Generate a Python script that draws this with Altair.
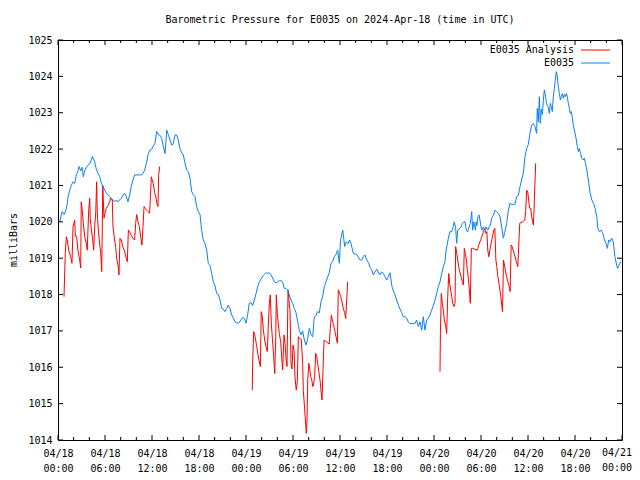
import altair as alt
import pandas as pd

# ---------------- data (minutes after 2024-04-18 00:00 UTC, millibars) -------------
station_min = [13, 31, 46, 61, 71, 77, 90, 102, 115, 128, 140, 153, 161, 174, 184, 194, 204, 217, 230, 243,
               255, 264, 281, 293, 306, 319, 332, 345, 358, 370, 383, 396, 408, 421, 434, 447, 460, 472, 485, 498,
               511, 523, 536, 549, 561, 574, 587, 613, 638, 651, 664, 676, 692, 704, 718, 730, 743, 756, 768, 781,
               794, 807, 820, 833, 845, 858, 871, 883, 896, 909, 921, 934, 947, 960, 973, 986, 998, 1011, 1024, 1036,
               1049, 1062, 1075, 1088, 1100, 1113, 1126, 1139, 1151, 1164, 1177, 1190, 1202, 1215, 1228, 1241, 1254, 1266, 1279, 1292,
               1304, 1317, 1330, 1343, 1356, 1369, 1381, 1394, 1407, 1419, 1432, 1440, 1453, 1465, 1478, 1491, 1504, 1517, 1530, 1542,
               1555, 1568, 1580, 1593, 1606, 1618, 1632, 1644, 1657, 1670, 1683, 1695, 1708, 1721, 1733, 1746, 1759, 1772, 1785, 1798,
               1810, 1823, 1836, 1848, 1861, 1874, 1887, 1900, 1913, 1925, 1938, 1951, 1963, 1976, 1989, 2002, 2014, 2027, 2040, 2053,
               2066, 2078, 2091, 2104, 2116, 2129, 2142, 2155, 2164, 2181, 2196, 2208, 2221, 2234, 2244, 2262, 2288, 2313, 2326, 2339,
               2351, 2359, 2380, 2390, 2403, 2415, 2428, 2441, 2453, 2466, 2479, 2492, 2505, 2518, 2530, 2543, 2551, 2558, 2569, 2581,
               2594, 2607, 2620, 2633, 2645, 2658, 2671, 2683, 2696, 2719, 2734, 2747, 2760, 2773, 2786, 2798, 2811, 2824, 2836, 2849,
               2862, 2875, 2888, 2900, 2913, 2926, 2939, 2951, 2964, 2972, 2990, 3002, 3015, 3028, 3035, 3045, 3054, 3061, 3071, 3087,
               3097, 3108, 3118, 3128, 3138, 3148, 3158, 3169, 3176, 3184, 3198, 3202, 3209, 3217, 3225, 3232, 3240, 3248, 3258, 3268,
               3278, 3292, 3302, 3312, 3322, 3335, 3347, 3360, 3373, 3386, 3398, 3411, 3421, 3437, 3449, 3462, 3475, 3488, 3500, 3513,
               3526, 3539, 3551, 3564, 3577, 3590, 3602, 3615, 3628, 3641, 3653, 3666, 3671, 3679, 3687, 3694, 3702, 3710, 3718, 3725,
               3733, 3741, 3748, 3756, 3763, 3771, 3779, 3786, 3794, 3802, 3809, 3817, 3825, 3832, 3840, 3848, 3855, 3863, 3871, 3878,
               3886, 3894, 3901, 3909, 3917, 3924, 3932, 3940, 3947, 3958, 3968, 3978, 3986, 3993, 4003, 4011, 4024, 4031, 4040, 4051,
               4058, 4066, 4076, 4089, 4102, 4114, 4127, 4135, 4148, 4160, 4174, 4186, 4198, 4208, 4218, 4228, 4241, 4253, 4266, 4279,
               4287, 4297, 4310]
station_mb = [1020.0, 1020.28, 1020.2, 1020.32, 1020.5, 1020.69, 1020.87, 1021.0, 1021.1, 1021.05, 1021.29, 1021.4, 1021.52, 1021.4, 1021.5, 1021.24, 1021.4, 1021.5, 1021.56, 1021.6,
              1021.7, 1021.8, 1021.65, 1021.45, 1021.33, 1021.25, 1021.06, 1020.97, 1020.87, 1020.8, 1020.74, 1020.7, 1020.65, 1020.6, 1020.55, 1020.6, 1020.55, 1020.6, 1020.65, 1020.74,
              1020.78, 1020.7, 1020.55, 1020.74, 1020.97, 1021.15, 1021.29, 1021.29, 1021.29, 1021.33, 1021.42, 1021.6, 1021.88, 1021.97, 1022.0, 1022.08, 1022.16, 1022.48, 1022.4, 1022.38,
              1022.3, 1022.07, 1021.88, 1022.52, 1022.4, 1022.25, 1022.11, 1022.15, 1022.39, 1022.39, 1022.25, 1022.02, 1021.9, 1021.84, 1021.61, 1021.42, 1021.38, 1021.2, 1020.83, 1020.75,
              1020.7, 1020.42, 1020.28, 1020.2, 1019.77, 1019.5, 1019.4, 1019.22, 1018.86, 1018.8, 1018.58, 1018.35, 1018.25, 1018.03, 1018.0, 1017.85, 1017.62, 1017.6, 1017.53, 1017.62,
              1017.71, 1017.62, 1017.44, 1017.35, 1017.25, 1017.22, 1017.22, 1017.25, 1017.34, 1017.37, 1017.3, 1017.21, 1017.45, 1017.76, 1017.78, 1017.7, 1017.85, 1018.03, 1018.22, 1018.35,
              1018.42, 1018.51, 1018.55, 1018.6, 1018.58, 1018.6, 1018.54, 1018.45, 1018.35, 1018.32, 1018.35, 1018.38, 1018.38, 1018.35, 1018.17, 1018.17, 1018.12, 1017.99, 1017.85, 1017.75,
              1017.62, 1017.5, 1017.25, 1017.02, 1016.89, 1017.0, 1016.75, 1016.61, 1016.8, 1017.07, 1016.9, 1016.84, 1017.39, 1017.42, 1017.53, 1017.5, 1017.8, 1017.94, 1018.22, 1018.35,
              1018.49, 1018.6, 1018.86, 1018.9, 1019.04, 1019.1, 1019.22, 1018.86, 1019.5, 1019.77, 1019.32, 1019.45, 1019.4, 1019.5, 1019.41, 1019.13, 1019.1, 1018.95, 1018.95, 1019.05,
              1019.09, 1019.0, 1018.86, 1018.75, 1018.68, 1018.54, 1018.62, 1018.7, 1018.62, 1018.54, 1018.62, 1018.58, 1018.49, 1018.4, 1018.49, 1018.6, 1018.4, 1018.22, 1018.1, 1017.99,
              1017.85, 1017.71, 1017.6, 1017.5, 1017.39, 1017.39, 1017.35, 1017.25, 1017.2, 1017.2, 1017.2, 1017.3, 1017.12, 1017.25, 1017.02, 1017.39, 1017.02, 1017.3, 1017.35, 1017.44,
              1017.57, 1017.7, 1017.85, 1018.03, 1018.22, 1018.35, 1018.58, 1018.76, 1018.9, 1019.2, 1019.55, 1019.73, 1019.73, 1019.87, 1020.0, 1019.85, 1019.41, 1019.77, 1019.8, 1019.85,
              1019.96, 1020.0, 1020.0, 1019.77, 1019.72, 1019.85, 1019.95, 1020.28, 1019.77, 1020.0, 1019.77, 1020.0, 1019.9, 1020.14, 1020.19, 1020.05, 1019.86, 1019.77, 1019.86, 1019.77,
              1019.86, 1019.77, 1019.86, 1019.91, 1020.1, 1020.19, 1020.32, 1020.28, 1020.23, 1020.14, 1019.86, 1019.55, 1019.7, 1019.96, 1020.3, 1020.51, 1020.48, 1020.48, 1020.48, 1020.69,
              1020.72, 1020.97, 1021.15, 1021.33, 1021.79, 1022.02, 1022.12, 1022.43, 1022.66, 1022.7, 1022.62, 1022.43, 1023.12, 1022.75, 1023.44, 1022.71, 1023.1, 1022.95, 1023.35, 1023.63,
              1023.5, 1023.26, 1023.2, 1023.15, 1022.98, 1023.26, 1023.17, 1023.03, 1023.44, 1023.67, 1023.9, 1024.13, 1023.98, 1023.72, 1023.53, 1023.35, 1023.44, 1023.53, 1023.4, 1023.5,
              1023.44, 1023.53, 1023.44, 1023.26, 1023.12, 1022.98, 1023.03, 1022.85, 1022.66, 1022.48, 1022.3, 1022.07, 1021.93, 1022.02, 1021.88, 1021.75, 1021.7, 1021.75, 1021.61, 1021.42,
              1021.24, 1021.05, 1020.78, 1020.6, 1020.51, 1020.37, 1020.14, 1019.82, 1019.73, 1019.77, 1019.68, 1019.5, 1019.41, 1019.27, 1019.5, 1019.45, 1019.55, 1019.45, 1019.04, 1018.81,
              1018.72, 1018.81, 1018.9]

analysis1_min = [46, 56, 64, 71, 82, 97, 107, 115, 128, 133, 143, 153, 166, 174, 178, 186, 194, 204, 217, 224,
                 235, 243, 247, 255, 266, 273, 281, 289, 296, 301, 307, 316, 327, 335, 343, 352, 360, 370, 383, 396,
                 404, 416, 421, 434, 442, 449, 460, 467, 475, 485, 498, 511, 523, 531, 539, 549, 562, 574, 587, 595,
                 603, 613, 623, 633, 643, 651, 659, 669, 679, 689, 702, 710, 715, 722, 730, 740, 751, 758, 766, 771, 779]
analysis1_mb = [1017.94, 1019.18, 1019.59, 1019.5, 1019.22, 1019.04, 1018.86, 1019.87, 1020.05, 1019.6, 1019.6, 1019.2, 1018.95, 1018.73, 1020.55, 1020.3, 1019.96, 1019.6, 1019.4, 1019.22,
                1020.3, 1020.65, 1020.1, 1019.8, 1019.5, 1019.22, 1019.87, 1020.24, 1021.1, 1020.24, 1019.87, 1019.5, 1019.13, 1018.63, 1021.0, 1020.1, 1020.24, 1020.37, 1020.45, 1020.55,
                1020.65, 1020.6, 1019.87, 1019.5, 1019.3, 1019.0, 1018.8, 1018.54, 1019.55, 1019.5, 1019.3, 1019.17, 1019.0, 1018.9, 1019.77, 1019.72, 1019.62, 1019.55, 1019.5, 1019.96,
                1020.2, 1020.0, 1019.87, 1019.6, 1019.36, 1019.87, 1020.42, 1020.37, 1020.32, 1020.28, 1020.24, 1020.87, 1021.24, 1021.15, 1021.05, 1020.8, 1020.65, 1020.5, 1020.42, 1021.3, 1021.52]

analysis2_min = [1488, 1491, 1499, 1507, 1514, 1522, 1532, 1542, 1550, 1557, 1565, 1573, 1583, 1593, 1603, 1611, 1619, 1626, 1634, 1642,
                 1652, 1660, 1668, 1672, 1680, 1688, 1695, 1706, 1714, 1721, 1731, 1739, 1747, 1754, 1762, 1769, 1777, 1785, 1792, 1800,
                 1808, 1815, 1825, 1833, 1841, 1848, 1859, 1864, 1874, 1879, 1887, 1894, 1902, 1907, 1913, 1921, 1928, 1936, 1944, 1951,
                 1956, 1966, 1974, 1982, 1989, 1999, 2007, 2017, 2022, 2030, 2038, 2048, 2063, 2078, 2086, 2094, 2101, 2109, 2119, 2129,
                 2140, 2147, 2155, 2165, 2175, 2186, 2196, 2204, 2211, 2219]
analysis2_mb = [1015.37, 1016.15, 1016.98, 1016.89, 1016.75, 1016.57, 1016.34, 1016.15, 1016.02, 1017.53, 1017.39, 1017.03, 1016.75, 1016.57, 1016.43, 1017.16, 1017.76, 1017.99, 1017.21, 1016.8,
                1016.29, 1015.83, 1016.84, 1017.99, 1017.48, 1017.16, 1016.93, 1016.7, 1016.24, 1015.93, 1016.89, 1016.66, 1016.2, 1016.02, 1018.13, 1017.85, 1017.58, 1016.11, 1015.95, 1016.61,
                1016.47, 1015.74, 1015.37, 1015.6, 1016.84, 1016.8, 1016.78, 1016.75, 1016.1, 1015.37, 1014.96, 1014.6, 1014.18, 1014.5, 1015.65, 1016.11, 1015.95, 1015.74, 1015.65, 1015.47,
                1015.5, 1015.75, 1016.38, 1016.3, 1016.1, 1015.85, 1015.65, 1015.28, 1015.1, 1015.93, 1016.75, 1016.72, 1016.68, 1016.64, 1017.07, 1017.44, 1017.3, 1017.2, 1017.03, 1016.85,
                1016.66, 1018.13, 1018.05, 1017.95, 1017.8, 1017.6, 1017.5, 1017.34, 1017.85, 1018.35]

analysis3_min = [2926, 2929, 2936, 2944, 2951, 2959, 2970, 2977, 2985, 2993, 3000, 3008, 3016, 3023, 3033, 3041, 3046, 3054, 3062, 3069,
                 3077, 3087, 3097, 3105, 3112, 3120, 3128, 3135, 3143, 3151, 3158, 3166, 3177, 3189, 3210, 3215, 3223, 3231, 3239, 3246,
                 3254, 3262, 3269, 3277, 3285, 3292, 3300, 3308, 3315, 3323, 3331, 3338, 3346, 3354, 3361, 3369, 3377, 3385, 3392, 3400,
                 3405, 3412, 3420, 3428, 3436, 3446, 3456, 3463, 3471, 3478, 3486, 3494, 3501, 3511, 3522, 3529, 3537, 3547, 3560, 3575,
                 3582, 3590, 3598, 3605, 3613, 3621, 3628, 3633, 3641, 3646, 3654, 3659]
analysis3_mb = [1015.88, 1016.93, 1018.03, 1017.76, 1017.58, 1017.3, 1017.12, 1016.93, 1017.94, 1018.58, 1018.31, 1018.12, 1017.94, 1017.76, 1017.67, 1017.76, 1019.32, 1019.13, 1018.95, 1018.77,
                1018.63, 1018.49, 1018.35, 1018.26, 1019.27, 1019.13, 1018.95, 1018.68, 1018.45, 1018.12, 1017.76, 1019.27, 1019.27, 1019.25, 1019.22, 1019.27, 1019.36, 1019.45, 1019.5, 1019.6,
                1019.68, 1019.77, 1019.82, 1019.68, 1019.73, 1019.22, 1019.04, 1019.22, 1019.36, 1019.5, 1019.64, 1019.77, 1019.82, 1018.95, 1018.77, 1018.5, 1018.32, 1018.12, 1017.94, 1017.67,
                1017.53, 1018.95, 1018.81, 1018.63, 1018.49, 1018.35, 1018.22, 1018.08, 1019.36, 1019.32, 1019.22, 1019.13, 1019.04, 1018.9, 1018.77, 1019.36, 1019.96, 1019.98, 1020.0, 1020.05,
                1020.28, 1020.87, 1020.82, 1020.6, 1020.37, 1020.37, 1020.14, 1020.05, 1019.91, 1020.3, 1021.15, 1021.61]

y_ticks = [1014, 1015, 1016, 1017, 1018, 1019, 1020, 1021, 1022, 1023, 1024, 1025]
x_major_hours = [0, 6, 12, 18, 24, 30, 36, 42, 48, 54, 60, 66, 72]
x_minor_hours = [2, 4, 8, 10, 14, 16, 20, 22, 26, 28, 32, 34, 38, 40, 44, 46, 50, 52, 56, 58, 62, 64, 68, 70]

title_text = "Barometric Pressure for E0035 on 2024-Apr-18 (time in UTC)"
y_title = "milliBars"
series_names = ["E0035 Analysis", "E0035"]
series_colors = ["#ff0000", "#0a80f5"]

# ---------------- build tables -------------
start = pd.Timestamp("2024-04-18T00:00:00", tz="UTC")
FMT = "%Y-%m-%dT%H:%M:%SZ"


def to_iso(mins):
    return [(start + pd.Timedelta(minutes=m)).strftime(FMT) for m in mins]


def ms(hours):
    return int((start + pd.Timedelta(hours=hours)).value // 10**6)


blue_df = pd.DataFrame({"t": to_iso(station_min), "p": station_mb})
red_df = pd.concat([
    pd.DataFrame({"t": to_iso(analysis1_min), "p": analysis1_mb, "seg": 1}),
    pd.DataFrame({"t": to_iso(analysis2_min), "p": analysis2_mb, "seg": 2}),
    pd.DataFrame({"t": to_iso(analysis3_min), "p": analysis3_mb, "seg": 3}),
], ignore_index=True)

major_df = pd.DataFrame({"t": [ms(h) for h in x_major_hours]})
minor_df = pd.DataFrame({"t": [ms(h) for h in x_minor_hours]})
last_df = pd.DataFrame({"t": [ms(x_major_hours[-1])]})
ytick_df = pd.DataFrame({"p": y_ticks})
one = pd.DataFrame({"a": [0]})

FONT = "DejaVu Sans Mono"
W, H = 564, 400
LABEL_PAD = 8
LABEL_EXPR = "[utcFormat(datum.value, '%m/%d'), utcFormat(datum.value, '%H:%M')]"

xscale = alt.Scale(type="utc", domain=[ms(0), ms(72)], nice=False)
yscale = alt.Scale(domain=[1014, 1025], nice=False, zero=False)

x_axis = alt.Axis(
    values=[ms(h) for h in x_major_hours[:-1]],
    labelExpr=LABEL_EXPR,
    ticks=False, domain=False, grid=False, title=None,
    labelFont=FONT, labelFontSize=10, labelColor="black",
    labelPadding=LABEL_PAD, labelLineHeight=15, labelFlush=False, labelOverlap=False,
)
y_axis = alt.Axis(
    values=y_ticks, format="d", ticks=False, domain=False, grid=False, title=None,
    labelFont=FONT, labelFontSize=10, labelColor="black", labelPadding=6,
    labelOverlap=False, labelFlush=False,
)


def X():
    return alt.X("t:T", scale=xscale, axis=x_axis, title=None)


def Y():
    return alt.Y("p:Q", scale=yscale, axis=y_axis, title=None)


red = alt.Chart(red_df).mark_line(color=series_colors[0], strokeWidth=1, clip=True).encode(
    x=X(), y=Y(), detail="seg:N",
)
blue = alt.Chart(blue_df).mark_line(color=series_colors[1], strokeWidth=1, clip=True).encode(
    x=X(), y=Y(),
)

# last x label (04/21 00:00) drawn separately, nudged to stay inside the page
last_label = alt.Chart(last_df).transform_calculate(
    lab=LABEL_EXPR.replace("datum.value", "datum.t")
).mark_text(
    font=FONT, fontSize=10, color="black", align="right", baseline="top", lineHeight=15, dx=10
).encode(x=X(), y=alt.value(H + LABEL_PAD), text="lab:N")

tick_style = dict(color="black", strokeWidth=1)
xmaj_b = alt.Chart(major_df).mark_rule(**tick_style).encode(
    x=X(), y=alt.value(H), y2=alt.value(H - 5))
xmaj_t = alt.Chart(major_df).mark_rule(**tick_style).encode(
    x=X(), y=alt.value(0), y2=alt.value(5))
xmin_b = alt.Chart(minor_df).mark_rule(**tick_style).encode(
    x=X(), y=alt.value(H), y2=alt.value(H - 3))
xmin_t = alt.Chart(minor_df).mark_rule(**tick_style).encode(
    x=X(), y=alt.value(0), y2=alt.value(3))
y_l = alt.Chart(ytick_df).mark_rule(**tick_style).encode(
    y=Y(), x=alt.value(0), x2=alt.value(5))
y_r = alt.Chart(ytick_df).mark_rule(**tick_style).encode(
    y=Y(), x=alt.value(W), x2=alt.value(W - 5))

title = alt.Chart(one).mark_text(
    text=title_text, font=FONT, fontSize=10, color="black", align="center", baseline="middle"
).encode(x=alt.value(W / 2), y=alt.value(-20))
ytitle = alt.Chart(one).mark_text(
    text=y_title, font=FONT, fontSize=10, color="black", align="center", baseline="middle", angle=270
).encode(x=alt.value(-44), y=alt.value(H / 2))

leg_text1 = alt.Chart(one).mark_text(
    text=series_names[0], font=FONT, fontSize=10, color="black", align="right", baseline="middle"
).encode(x=alt.value(516), y=alt.value(10))
leg_text2 = alt.Chart(one).mark_text(
    text=series_names[1], font=FONT, fontSize=10, color="black", align="right", baseline="middle"
).encode(x=alt.value(516), y=alt.value(23))
leg_line1 = alt.Chart(one).mark_rule(color=series_colors[0], strokeWidth=1).encode(
    x=alt.value(523), x2=alt.value(552), y=alt.value(10))
leg_line2 = alt.Chart(one).mark_rule(color=series_colors[1], strokeWidth=1).encode(
    x=alt.value(523), x2=alt.value(552), y=alt.value(23))

chart = alt.layer(
    red, blue, xmaj_b, xmaj_t, xmin_b, xmin_t, y_l, y_r, last_label,
    title, ytitle, leg_text1, leg_text2, leg_line1, leg_line2,
).properties(
    width=W, height=H,
    autosize=alt.AutoSizeParams(type="none"),
    padding={"left": 50, "top": 32, "right": 10, "bottom": 34},
    background="white",
).configure_view(stroke="black", strokeWidth=1)

chart.save("out.html", embed_options={"renderer": "svg", "actions": False})
